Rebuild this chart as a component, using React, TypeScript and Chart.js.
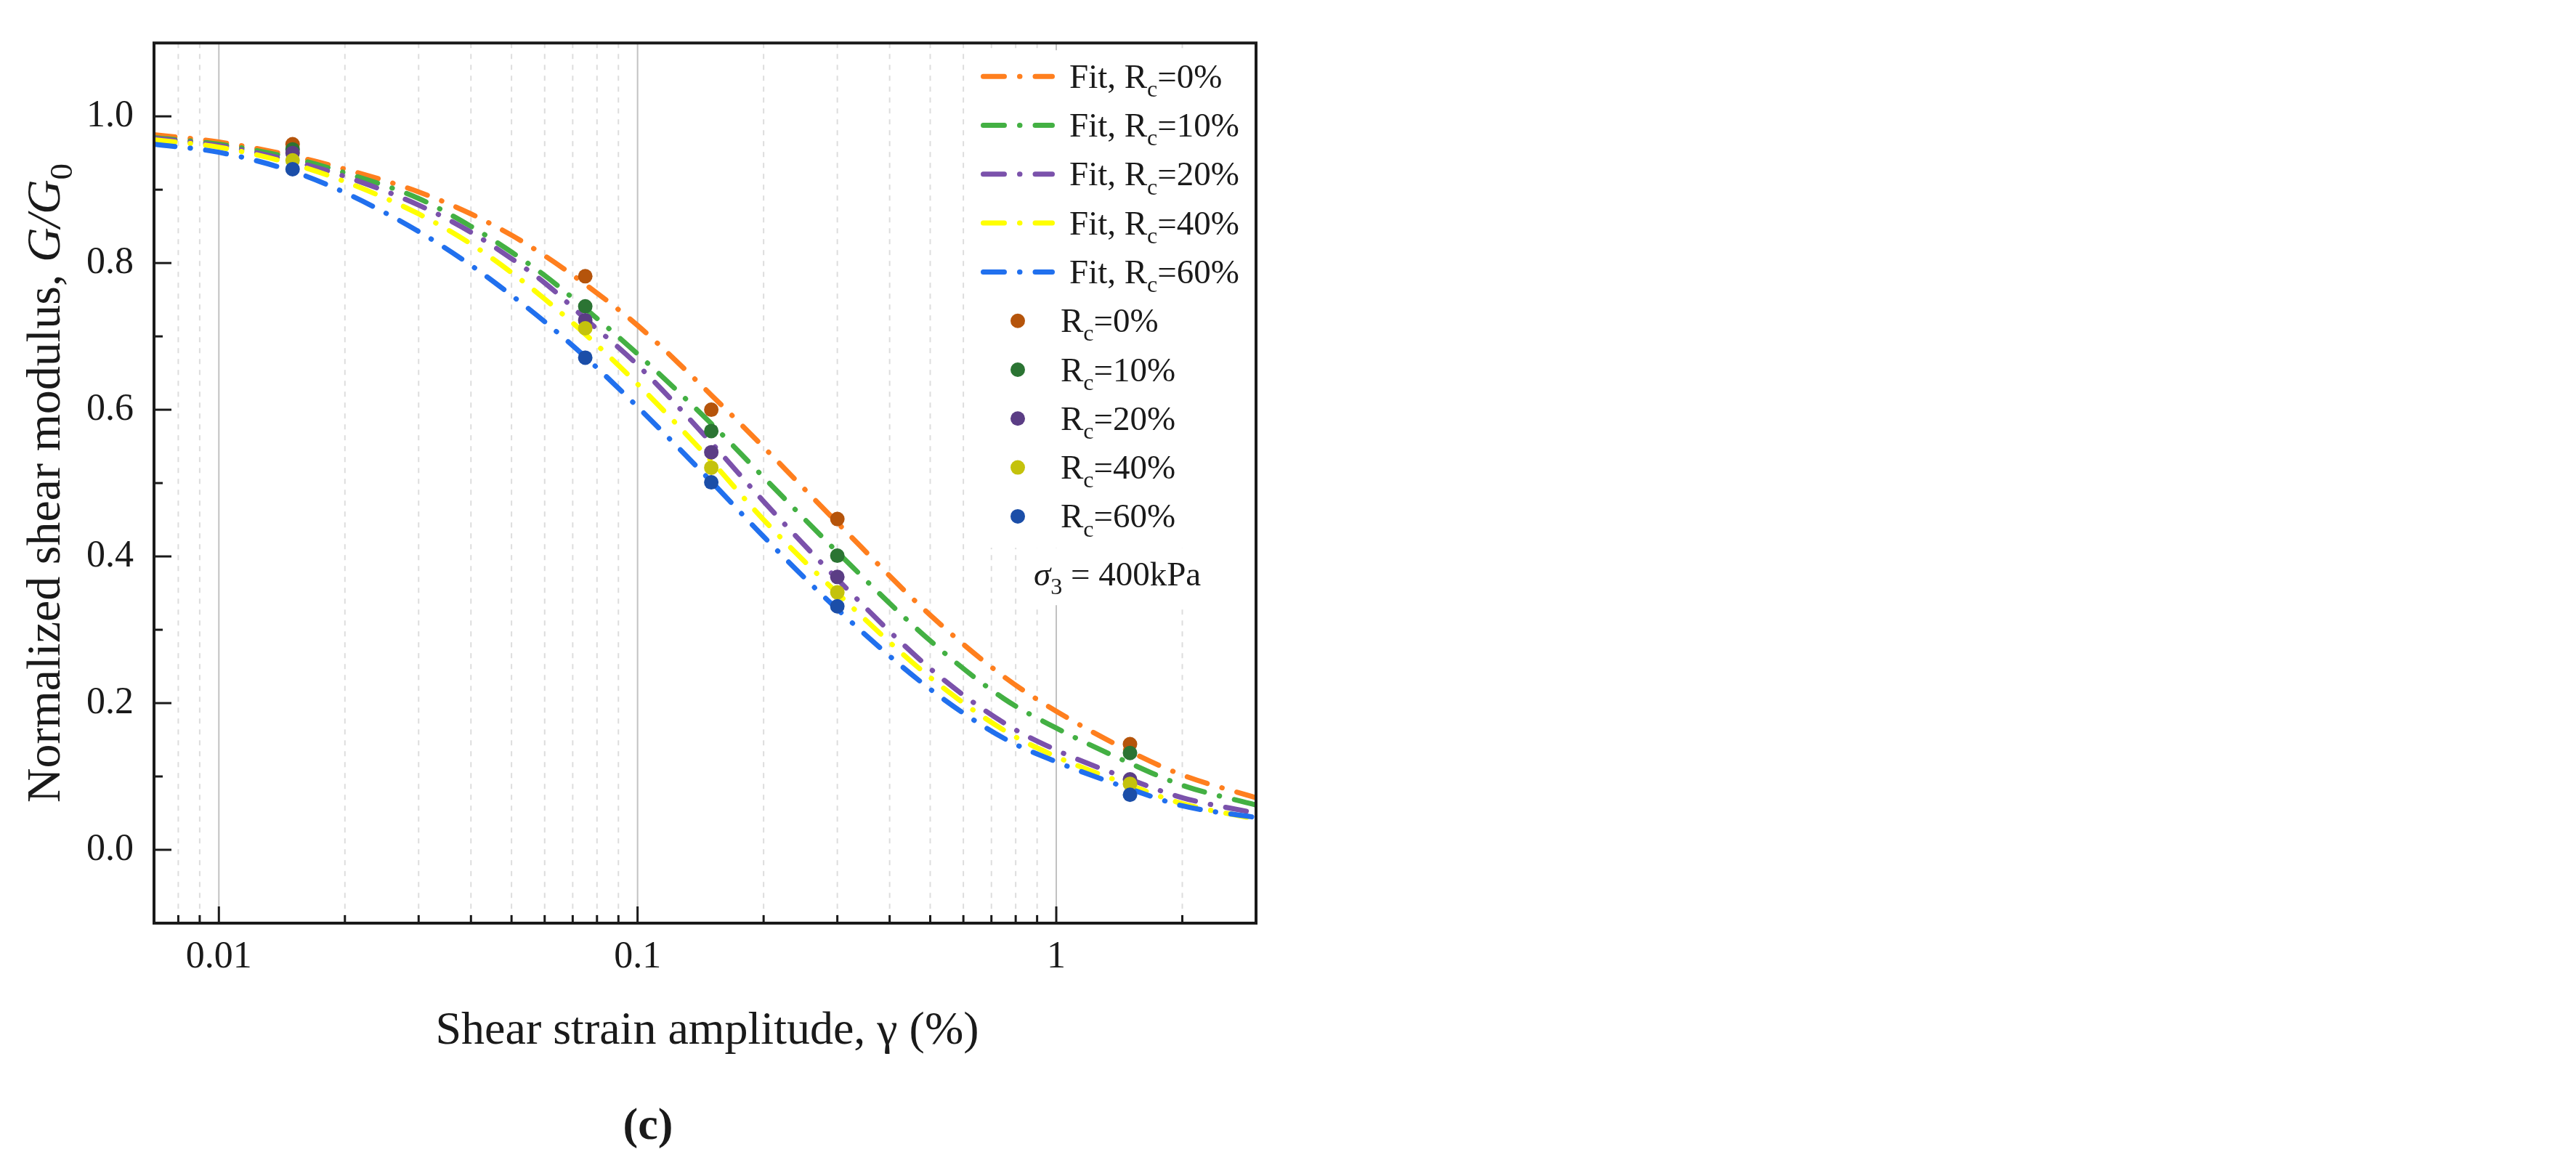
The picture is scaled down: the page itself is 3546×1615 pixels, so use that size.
import React, { useEffect, useRef } from 'react'
import Chart, { ChartConfiguration } from 'chart.js/auto'

// fitted curves at these strains (%)
const fitStrain = [0.007, 0.01, 0.015, 0.02, 0.03, 0.04, 0.05, 0.06, 0.075, 0.1, 0.15, 0.2, 0.3, 0.5, 0.75, 1, 1.5, 2, 3]
const fitRc0 = [0.975, 0.965, 0.946, 0.928, 0.897, 0.867, 0.838, 0.81, 0.771, 0.715, 0.62, 0.549, 0.446, 0.32, 0.236, 0.189, 0.134, 0.102, 0.071]
const fitRc10 = [0.971, 0.962, 0.943, 0.923, 0.888, 0.85, 0.815, 0.783, 0.738, 0.676, 0.581, 0.508, 0.406, 0.285, 0.206, 0.166, 0.118, 0.088, 0.061]
const fitRc20 = [0.97, 0.96, 0.939, 0.918, 0.879, 0.842, 0.806, 0.773, 0.724, 0.661, 0.555, 0.475, 0.369, 0.247, 0.173, 0.136, 0.096, 0.071, 0.05]
const fitRc40 = [0.968, 0.958, 0.935, 0.911, 0.867, 0.826, 0.787, 0.751, 0.703, 0.635, 0.53, 0.45, 0.35, 0.235, 0.163, 0.127, 0.088, 0.063, 0.042]
const fitRc60 = [0.962, 0.951, 0.925, 0.896, 0.843, 0.797, 0.756, 0.72, 0.672, 0.604, 0.502, 0.427, 0.328, 0.219, 0.152, 0.12, 0.083, 0.06, 0.044]

// measured points
const testStrain = [0.015, 0.075, 0.15, 0.3, 1.5]
const testRc0 = [0.962, 0.782, 0.6, 0.451, 0.144]
const testRc10 = [0.955, 0.741, 0.571, 0.401, 0.132]
const testRc20 = [0.95, 0.722, 0.542, 0.372, 0.096]
const testRc40 = [0.94, 0.711, 0.521, 0.351, 0.09]
const testRc60 = [0.928, 0.671, 0.501, 0.332, 0.075]

const rcLabels = ['0%', '10%', '20%', '40%', '60%']
const fitColors = ['#ff7f1e', '#43b043', '#7b52ab', '#ffff00', '#2170ee']
const pointColors = ['#b5540b', '#2b7433', '#5b3d85', '#c4c20c', '#1b4ea8']

const xTickValues = [0.007, 0.008, 0.009, 0.01, 0.02, 0.03, 0.04, 0.05, 0.06, 0.07, 0.08, 0.09, 0.1, 0.2, 0.3, 0.4, 0.5, 0.6, 0.7, 0.8, 0.9, 1, 2, 3]
const xMajor = [0.01, 0.1, 1]
const xTickLabels = ['0.01', '0.1', '1']
const yTickValues = [-0.1, 0, 0.1, 0.2, 0.3, 0.4, 0.5, 0.6, 0.7, 0.8, 0.9, 1.0, 1.1]
const yMajor = [0, 0.2, 0.4, 0.6, 0.8, 1.0]
const yTickLabels = ['0.0', '0.2', '0.4', '0.6', '0.8', '1.0']

const xTitle = 'Shear strain amplitude, γ (%)'
const caption = '(c)'

const SERIF = '"Liberation Serif", "Times New Roman", serif'
const INK = '#1a1a1a'
const DASH = [29, 21, 0.5, 21]

type Seg = { t: string; italic?: boolean; sub?: boolean }

const drawRich = (
  ctx: CanvasRenderingContext2D,
  segs: Seg[],
  x: number,
  y: number,
  size: number,
  align: 'left' | 'center',
) => {
  const fontOf = (s: Seg) =>
    `${s.italic ? 'italic ' : ''}${s.sub ? Math.round(size * 0.68) : size}px ${SERIF}`
  let total = 0
  segs.forEach((s) => {
    ctx.font = fontOf(s)
    total += ctx.measureText(s.t).width
  })
  let cx = align === 'center' ? x - total / 2 : x
  ctx.textAlign = 'left'
  ctx.textBaseline = 'alphabetic'
  segs.forEach((s) => {
    ctx.font = fontOf(s)
    ctx.fillText(s.t, cx, s.sub ? y + size * 0.26 : y)
    cx += ctx.measureText(s.t).width
  })
}

const near = (a: number, b: number) => Math.abs(a - b) < 1e-9

const figurePlugin = {
  id: 'figure',
  beforeDatasetsDraw(chart: Chart) {
    const { ctx, chartArea: a } = chart
    const xs = chart.scales.x
    ctx.save()
    ctx.lineWidth = 2
    xTickValues.forEach((v) => {
      const px = xs.getPixelForValue(v)
      if (px < a.left + 2 || px > a.right - 2) return
      const major = xMajor.some((m) => near(m, v))
      ctx.strokeStyle = major ? '#c2c2c2' : '#dddddd'
      ctx.setLineDash(major ? [] : [7, 8])
      ctx.beginPath()
      ctx.moveTo(px, a.top)
      ctx.lineTo(px, a.bottom)
      ctx.stroke()
    })
    ctx.restore()
  },
  afterDraw(chart: Chart) {
    const { ctx, chartArea: a } = chart
    const xs = chart.scales.x
    const ys = chart.scales.y
    ctx.save()

    // inward ticks
    ctx.strokeStyle = INK
    ctx.lineWidth = 3
    ctx.setLineDash([])
    xTickValues.forEach((v) => {
      const px = xs.getPixelForValue(v)
      if (px < a.left + 2 || px > a.right - 2) return
      const len = xMajor.some((m) => near(m, v)) ? 23 : 11
      ctx.beginPath()
      ctx.moveTo(px, a.bottom)
      ctx.lineTo(px, a.bottom - len)
      ctx.stroke()
    })
    yTickValues.forEach((v) => {
      const py = ys.getPixelForValue(v)
      if (py < a.top + 2 || py > a.bottom - 2) return
      const len = yMajor.some((m) => near(m, v)) ? 24 : 12
      ctx.beginPath()
      ctx.moveTo(a.left, py)
      ctx.lineTo(a.left + len, py)
      ctx.stroke()
    })

    // frame
    ctx.lineWidth = 4
    ctx.strokeRect(a.left, a.top, a.right - a.left, a.bottom - a.top)

    // legend
    ctx.fillStyle = '#ffffff'
    ctx.fillRect(a.right - 389, a.top + 10, 387, 685)
    ctx.fillRect(a.right - 327, a.top + 695, 325, 79)
    const rowY = (i: number) => a.top + 46 + 67.3 * i
    const size = 47
    rcLabels.forEach((rc, i) => {
      const y = rowY(i)
      ctx.strokeStyle = fitColors[i]
      ctx.lineWidth = 7
      ctx.lineCap = 'round'
      ctx.setLineDash(DASH)
      ctx.beginPath()
      ctx.moveTo(a.right - 375.5, y)
      ctx.lineTo(a.right - 280.5, y)
      ctx.stroke()
      ctx.setLineDash([])
      ctx.fillStyle = INK
      drawRich(ctx, [{ t: 'Fit, R' }, { t: 'c', sub: true }, { t: '=' + rc }], a.right - 257, y + 15.5, size, 'left')
    })
    rcLabels.forEach((rc, i) => {
      const y = rowY(i + 5)
      ctx.fillStyle = pointColors[i]
      ctx.beginPath()
      ctx.arc(a.right - 328, y, 10, 0, Math.PI * 2)
      ctx.fill()
      ctx.fillStyle = INK
      drawRich(ctx, [{ t: 'R' }, { t: 'c', sub: true }, { t: '=' + rc }], a.right - 269, y + 15.5, size, 'left')
    })
    drawRich(ctx, [{ t: 'σ', italic: true }, { t: '3', sub: true }, { t: ' = 400kPa' }], a.right - 306, a.top + 747, size, 'left')

    // axis titles
    ctx.fillStyle = INK
    drawRich(ctx, [{ t: xTitle }], (a.left + a.right) / 2 + 3, a.bottom + 166, 64, 'center')
    ctx.save()
    ctx.translate(82, (a.top + a.bottom) / 2)
    ctx.rotate(-Math.PI / 2)
    drawRich(
      ctx,
      [{ t: 'Normalized shear modulus, ' }, { t: 'G/G', italic: true }, { t: '0', sub: true }],
      0,
      0,
      66,
      'center',
    )
    ctx.restore()

    // panel caption
    ctx.font = `bold 62px ${SERIF}`
    ctx.textAlign = 'center'
    ctx.textBaseline = 'alphabetic'
    ctx.fillText(caption, 892, 1568)
    ctx.restore()
  },
}

const fitSets = [fitRc0, fitRc10, fitRc20, fitRc40, fitRc60]
const testSets = [testRc0, testRc10, testRc20, testRc40, testRc60]

const App: React.FC = () => {
  const chartRef = useRef<HTMLCanvasElement | null>(null)
  const chartInstance = useRef<Chart | null>(null)

  useEffect(() => {
    if (!chartRef.current) return
    if (chartInstance.current) chartInstance.current.destroy()

    const fitData = fitSets.map((vals, i) => ({
      type: 'line' as const,
      label: 'Fit, Rc=' + rcLabels[i],
      data: fitStrain.map((x, k) => ({ x, y: vals[k] })),
      borderColor: fitColors[i],
      backgroundColor: fitColors[i],
      borderWidth: 7,
      borderDash: DASH,
      borderCapStyle: 'round' as const,
      pointRadius: 0,
      cubicInterpolationMode: 'monotone' as const,
      fill: false,
      order: 20 - i,
    }))
    const testData = testSets.map((vals, i) => ({
      type: 'scatter' as const,
      label: 'Rc=' + rcLabels[i],
      data: testStrain.map((x, k) => ({ x, y: vals[k] })),
      backgroundColor: pointColors[i],
      borderColor: pointColors[i],
      borderWidth: 0,
      pointRadius: 10,
      showLine: false,
      order: 5 - i,
    }))

    const tickFont = { family: SERIF, size: 52 }

    const config: ChartConfiguration = {
      type: 'scatter',
      data: { datasets: [...fitData, ...testData] as any },
      options: {
        animation: false,
        responsive: false,
        devicePixelRatio: 1,
        layout: { padding: { top: 48, right: 71, left: 0, bottom: 0 } },
        plugins: { legend: { display: false }, tooltip: { enabled: false } },
        scales: {
          x: {
            type: 'logarithmic',
            min: 0.007,
            max: 3,
            afterBuildTicks: (s: any) => {
              s.ticks = xTickValues.map((value) => ({ value }))
            },
            afterFit: (s: any) => {
              s.height = 344
            },
            grid: { display: false, drawTicks: false },
            border: { display: false },
            ticks: {
              autoSkip: false,
              maxRotation: 0,
              padding: 16,
              color: INK,
              font: tickFont,
              callback: (v: any) => {
                const i = xMajor.findIndex((m) => near(m, Number(v)))
                return i >= 0 ? xTickLabels[i] : ''
              },
            },
          },
          y: {
            type: 'linear',
            min: -0.1,
            max: 1.1,
            afterBuildTicks: (s: any) => {
              s.ticks = yTickValues.map((value) => ({ value }))
            },
            afterFit: (s: any) => {
              s.width = 212
            },
            grid: { display: false, drawTicks: false },
            border: { display: false },
            ticks: {
              autoSkip: false,
              padding: 28,
              color: INK,
              font: tickFont,
              callback: (v: any) => {
                const i = yMajor.findIndex((m) => Math.abs(m - Number(v)) < 1e-6)
                return i >= 0 ? yTickLabels[i] : ''
              },
            },
          },
        },
      },
      plugins: [figurePlugin],
    }

    chartInstance.current = new Chart(chartRef.current, config)

    return () => {
      if (chartInstance.current) {
        chartInstance.current.destroy()
        chartInstance.current = null
      }
    }
  }, [])

  return (
    <div style={{ position: 'absolute', left: 0, top: 0, width: 3546, height: 1615, background: '#ffffff' }}>
      <canvas
        ref={chartRef}
        width={1800}
        height={1615}
        style={{ position: 'absolute', left: 0, top: 0, width: 1800, height: 1615 }}
      />
    </div>
  )
}

export default App
